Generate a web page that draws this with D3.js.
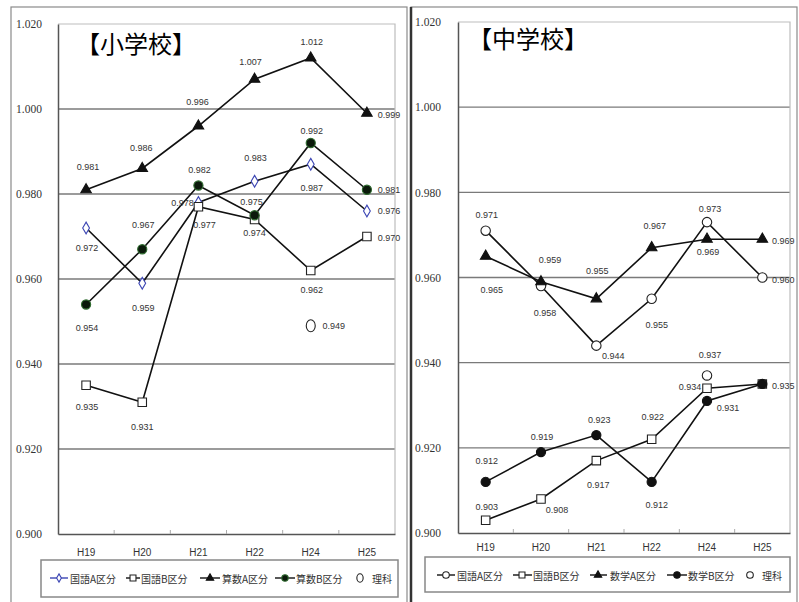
<!DOCTYPE html>
<html lang="ja">
<head>
<meta charset="utf-8">
<script src="https://cdn.jsdelivr.net/npm/d3@7/dist/d3.min.js"></script>
<style>
  html, body { margin: 0; padding: 0; background: #fff; }
  svg { display: block; }
</style>
</head>
<body>
<svg id="chart" width="799" height="602"></svg>
<script>
// 年度（カテゴリ）と目盛
const categories = ["H19", "H20", "H21", "H22", "H24", "H25"];
const yTicks = [0.900, 0.920, 0.940, 0.960, 0.980, 1.000, 1.020];

// 小学校
const esKokugoA = [0.972, 0.959, 0.978, 0.983, 0.987, 0.976];
const esKokugoB = [0.935, 0.931, 0.977, 0.974, 0.962, 0.970];
const esSansuA  = [0.981, 0.986, 0.996, 1.007, 1.012, 0.999];
const esSansuB  = [0.954, 0.967, 0.982, 0.975, 0.992, 0.981];
const esRika    = [null, null, null, null, 0.949, null];

// 中学校
const jhKokugoA = [0.971, 0.958, 0.944, 0.955, 0.973, 0.960];
const jhKokugoB = [0.903, 0.908, 0.917, 0.922, 0.934, 0.935];
const jhSugakuA = [0.965, 0.959, 0.955, 0.967, 0.969, 0.969];
const jhSugakuB = [0.912, 0.919, 0.923, 0.912, 0.931, 0.935];
const jhRika    = [null, null, null, null, 0.937, null];

// 値ラベルの配置（マーカーからのずれ [dx, dy]、null は表示しない）
const esLabelOffsets = {
  kokugoA: [[1, 20], [1, 25], [-16, 0], [1, -23], [1, 24], [22, 0]],
  kokugoB: [[1, 22], [0, 25], [6, 18], [0, 13], [1, 19], [22, 1]],
  sansuA:  [[2, -23], [-1, -21], [-1, -24], [-4, -17], [1, -16], [22, 2]],
  sansuB:  [[1, 23], [1, -24], [1, -16], [-3, -13], [1, -12], [22, 0]],
  rika:    [null, null, null, null, [23, 0], null]
};
const jhLabelOffsets = {
  kokugoA: [[1, -16], [4, 27], [17, 10], [5, 26], [3, -13], [21, 2]],
  kokugoB: [[1, -13], [16, 11], [2, 24], [1, -22], [-17, -1], [21, 2]],
  sugakuA: [[6, 34], [9, -22], [1, -28], [3, -22], [1, 13], [21, 2]],
  sugakuB: [[1, -21], [1, -15], [3, -15], [5, 23], [21, 7], null],
  rika:    [null, null, null, null, [3, -20], null]
};

const svg = d3.select("#chart");
const fmt = d3.format(".3f");

// 外枠
svg.append("rect").attr("x", 11).attr("y", 7).attr("width", 396).attr("height", 600)
  .attr("fill", "none").attr("stroke", "#8a8a8a").attr("stroke-width", 1.2);
svg.append("rect").attr("x", 411).attr("y", 7).attr("width", 386).attr("height", 600)
  .attr("fill", "none").attr("stroke", "#8a8a8a").attr("stroke-width", 1.2);
svg.append("line").attr("x1", 411).attr("x2", 411).attr("y1", 7).attr("y2", 602)
  .attr("stroke", "#333").attr("stroke-width", 2.5);

const markerDefs = {
  diamond: { type: d3.symbolDiamond, size: 40, fill: "#fff", stroke: "#3c46b4" },
  square:  { type: d3.symbolSquare,  size: 72, fill: "#fff", stroke: "#222" },
  triangle:{ type: d3.symbolTriangle, size: 48, fill: "#111", stroke: "#111" },
  dot:     { type: d3.symbolCircle,  size: 66, fill: "#0b1a0b", stroke: "#2f6b2f" },
  blackdot:{ type: d3.symbolCircle,  size: 66, fill: "#111", stroke: "#111" },
  ring:    { type: d3.symbolCircle,  size: 70, fill: "#fff", stroke: "#222" },
  oval:    { oval: true, rx: 4.5, ry: 6, fill: "#fff", stroke: "#222" }
};

function drawMarker(g, x, y, key, scale = 1) {
  const m = markerDefs[key];
  if (m.oval) {
    g.append("ellipse").attr("cx", x).attr("cy", y)
      .attr("rx", m.rx * scale).attr("ry", m.ry * scale)
      .attr("fill", m.fill).attr("stroke", m.stroke).attr("stroke-width", 1.1);
    return;
  }
  g.append("path")
    .attr("d", d3.symbol().type(m.type).size(m.size * scale * scale)())
    .attr("transform", `translate(${x},${y})`)
    .attr("fill", m.fill).attr("stroke", m.stroke).attr("stroke-width", 1.1);
}

function drawPanel(cfg) {
  const g = svg.append("g");
  const x = d3.scaleBand().domain(categories).range([cfg.left, cfg.right]);
  const y = d3.scaleLinear().domain([0.9, 1.02]).range([cfg.bottom, cfg.top]);
  const cx = c => x(c) + x.bandwidth() / 2;

  // 目盛線
  g.append("g").selectAll("line").data(yTicks.slice(1, -1)).join("line")
    .attr("x1", cfg.left).attr("x2", cfg.right)
    .attr("y1", d => y(d)).attr("y2", d => y(d))
    .attr("stroke", "#7a7a7a").attr("stroke-width", 1.3);
  // プロット領域の枠
  g.append("path")
    .attr("d", `M${cfg.left},${y(1.02)}H${cfg.right}V${cfg.bottom}`)
    .attr("fill", "none").attr("stroke", "#bdbdbd").attr("stroke-width", 1.2);

  // 縦軸
  const yAxis = d3.axisLeft(y).tickValues(yTicks).tickSize(0).tickFormat(fmt);
  const ya = g.append("g").attr("transform", `translate(${cfg.left},0)`).call(yAxis);
  ya.select(".domain").attr("stroke", "#555").attr("stroke-width", 1.5);
  ya.selectAll("text")
    .attr("x", cfg.yLabelX - cfg.left).attr("text-anchor", "start")
    .attr("font-family", "'Liberation Serif', serif").attr("font-size", 11.5)
    .attr("fill", "#333");

  // 横軸
  const xAxis = d3.axisBottom(x).tickSize(0);
  const xa = g.append("g").attr("transform", `translate(0,${cfg.bottom})`).call(xAxis);
  xa.select(".domain").attr("stroke", "#555").attr("stroke-width", 1.5);
  xa.selectAll("text")
    .attr("y", cfg.catLabelY - cfg.bottom).attr("dy", "0.35em")
    .attr("font-family", "'Liberation Sans', sans-serif").attr("font-size", 10)
    .attr("fill", "#333");
  // カテゴリ境界の目盛
  g.append("g").selectAll("line").data(categories.slice(1)).join("line")
    .attr("x1", d => x(d)).attr("x2", d => x(d))
    .attr("y1", cfg.bottom).attr("y2", cfg.bottom - 4)
    .attr("stroke", "#aaa").attr("stroke-width", 1);

  // 系列
  cfg.series.forEach(s => {
    const pts = categories.map((c, i) => ({ c, v: s.values[i], i })).filter(d => d.v != null);
    if (s.line) {
      g.append("path")
        .datum(pts)
        .attr("d", d3.line().x(d => cx(d.c)).y(d => y(d.v)))
        .attr("fill", "none").attr("stroke", "#111").attr("stroke-width", 1.6);
    }
    s.pts = pts;
  });
  cfg.series.forEach(s => {
    s.pts.forEach(d => drawMarker(g, cx(d.c), y(d.v), s.marker));
  });
  // 値ラベル
  cfg.series.forEach(s => {
    s.pts.forEach(d => {
      const off = s.offsets[d.i];
      if (!off) return;
      g.append("text")
        .attr("x", cx(d.c) + off[0]).attr("y", y(d.v) + off[1])
        .attr("text-anchor", "middle").attr("dominant-baseline", "central")
        .attr("font-family", "'Liberation Sans', sans-serif").attr("font-size", 9)
        .attr("fill", "#333")
        .text(fmt(d.v));
    });
  });

  // 見出し
  g.append("text")
    .attr("x", cfg.titleX).attr("y", cfg.titleY)
    .attr("font-family", "'Noto Sans CJK JP', sans-serif").attr("font-size", 24)
    .attr("fill", "#000")
    .text(cfg.title);

  // 凡例
  const lg = cfg.legend;
  g.append("rect").attr("x", lg.x0).attr("y", lg.y0)
    .attr("width", lg.x1 - lg.x0).attr("height", lg.y1 - lg.y0)
    .attr("fill", "#fff").attr("stroke", "#888").attr("stroke-width", 1.5);
  cfg.series.forEach((s, i) => {
    const it = lg.items[i];
    if (s.line) {
      g.append("line").attr("x1", it.l0).attr("x2", it.l1)
        .attr("y1", lg.rowY).attr("y2", lg.rowY)
        .attr("stroke", s.legendStroke || "#111").attr("stroke-width", 1.4);
    }
    drawMarker(g, it.m, lg.rowY, s.marker, 0.7);
    g.append("text").attr("x", it.t).attr("y", lg.rowY)
      .attr("dominant-baseline", "central")
      .attr("font-family", "'Noto Sans CJK JP', sans-serif").attr("font-size", 10)
      .attr("fill", "#333")
      .text(s.name);
  });
}

drawPanel({
  title: "【小学校】", titleX: 76, titleY: 53,
  left: 58, right: 395, top: 24, bottom: 534,
  yLabelX: 16, catLabelY: 552,
  series: [
    { name: "国語A区分", values: esKokugoA, marker: "diamond", line: true, offsets: esLabelOffsets.kokugoA, legendStroke: "#3c46b4" },
    { name: "国語B区分", values: esKokugoB, marker: "square", line: true, offsets: esLabelOffsets.kokugoB },
    { name: "算数A区分", values: esSansuA, marker: "triangle", line: true, offsets: esLabelOffsets.sansuA },
    { name: "算数B区分", values: esSansuB, marker: "dot", line: true, offsets: esLabelOffsets.sansuB },
    { name: "理科", values: esRika, marker: "oval", line: false, offsets: esLabelOffsets.rika }
  ],
  legend: {
    x0: 41, x1: 398, y0: 560, y1: 597, rowY: 578,
    items: [
      { l0: 50, l1: 68, m: 59, t: 70 },
      { l0: 126, l1: 140, m: 133, t: 141 },
      { l0: 200, l1: 220, m: 210, t: 222 },
      { l0: 275, l1: 295, m: 285, t: 296 },
      { m: 360, t: 372 }
    ]
  }
});

drawPanel({
  title: "【中学校】", titleX: 468, titleY: 48,
  left: 458, right: 790, top: 22, bottom: 533,
  yLabelX: 415, catLabelY: 547,
  series: [
    { name: "国語A区分", values: jhKokugoA, marker: "ring", line: true, offsets: jhLabelOffsets.kokugoA },
    { name: "国語B区分", values: jhKokugoB, marker: "square", line: true, offsets: jhLabelOffsets.kokugoB },
    { name: "数学A区分", values: jhSugakuA, marker: "triangle", line: true, offsets: jhLabelOffsets.sugakuA },
    { name: "数学B区分", values: jhSugakuB, marker: "blackdot", line: true, offsets: jhLabelOffsets.sugakuB },
    { name: "理科", values: jhRika, marker: "ring", line: false, offsets: jhLabelOffsets.rika }
  ],
  legend: {
    x0: 425, x1: 790, y0: 557, y1: 592, rowY: 575,
    items: [
      { l0: 437, l1: 455, m: 446, t: 457 },
      { l0: 513, l1: 532, m: 522, t: 533 },
      { l0: 590, l1: 607, m: 598, t: 610 },
      { l0: 667, l1: 687, m: 677, t: 688 },
      { m: 750, t: 762 }
    ]
  }
});
</script>
</body>
</html>
